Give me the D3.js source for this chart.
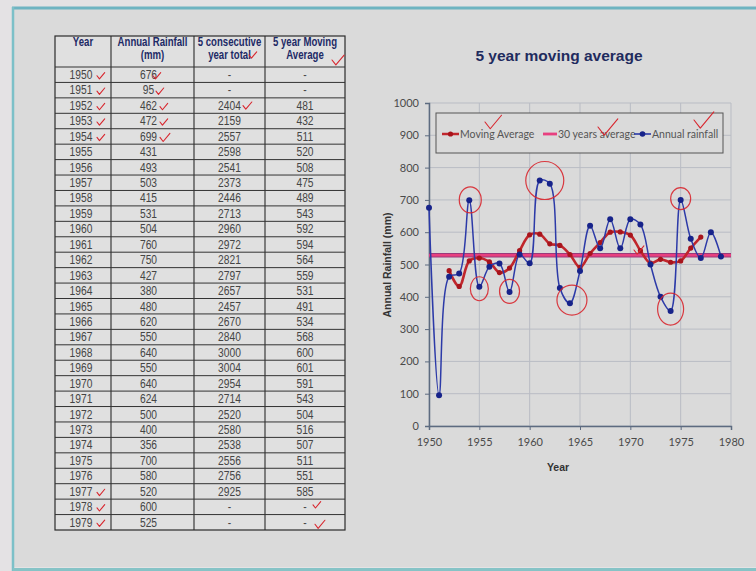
<!DOCTYPE html>
<html>
<head>
<meta charset="utf-8">
<script src="https://cdn.jsdelivr.net/npm/d3@7/dist/d3.min.js"></script>
<style>
  html, body { margin: 0; padding: 0; background: #e6e2e6; }
  svg { display: block; }
</style>
</head>
<body>
<svg id="slide" width="756" height="571"></svg>
<script>
// ---- data ----
const years = [1950,1951,1952,1953,1954,1955,1956,1957,1958,1959,
               1960,1961,1962,1963,1964,1965,1966,1967,1968,1969,
               1970,1971,1972,1973,1974,1975,1976,1977,1978,1979];
const rainfall = [676,95,462,472,699,431,493,503,415,531,
                  504,760,750,427,380,480,620,550,640,550,
                  640,624,500,400,356,700,580,520,600,525];
const fiveYearTotal = [null,null,2404,2159,2557,2598,2541,2373,2446,2713,
                       2960,2972,2821,2797,2657,2457,2670,2840,3000,3004,
                       2954,2714,2520,2580,2538,2556,2756,2925,null,null];
const movingAvg = [null,null,481,432,511,520,508,475,489,543,
                   592,594,564,559,531,491,534,568,600,601,
                   591,543,504,516,507,511,551,585,null,null];
const thirtyYearAvg = 529;
const yTicks = [0,100,200,300,400,500,600,700,800,900,1000];
const xTicks = [1950,1955,1960,1965,1970,1975,1980];
const headers = [["Year"], ["Annual Rainfall", "(mm)"], ["5 consecutive", "year total"], ["5 year Moving", "Average"]];
const legendItems = ["Moving Average", "30 years average", "Annual rainfall"];
// hand-drawn highlights: [year, value, rx, ry]
const highlights = [[1954.1, 700, 11, 13], [1961.5, 760, 19, 19], [1975.0, 704, 10, 11],
                    [1955.0, 425, 9, 12], [1958.0, 417, 10, 12], [1964.2, 390, 15, 15], [1974.0, 362, 13, 16]];

const svg = d3.select("#slide");
const red = "#d8262e";

// ---- slide frame ----
svg.append("rect").attr("x", 0).attr("y", 0).attr("width", 756).attr("height", 571).attr("fill", "#e4e2e4");
svg.append("rect").attr("x", 13).attr("y", 8).attr("width", 743).attr("height", 559).attr("fill", "#dadada");
svg.append("line").attr("x1", 12).attr("x2", 756).attr("y1", 8).attr("y2", 8).attr("stroke", "#6fb4c2").attr("stroke-width", 3);
svg.append("line").attr("x1", 13).attr("x2", 13).attr("y1", 7).attr("y2", 571).attr("stroke", "#7cc0c8").attr("stroke-width", 2.5);
svg.append("line").attr("x1", 13).attr("x2", 756).attr("y1", 569.5).attr("y2", 569.5).attr("stroke", "#86c3c6").attr("stroke-width", 3);

// ---- check mark helper ----
function tick(g, x, y, s) {
  g.append("path")
    .attr("d", `M${x},${y} l${0.35*s},${0.45*s} l${0.75*s},${-0.9*s}`)
    .attr("fill", "none").attr("stroke", red).attr("stroke-width", 1.1)
    .attr("stroke-linecap", "round").attr("stroke-linejoin", "round");
}

// condensed text: regular face squeezed horizontally
function narrowText(g, x, y, str, opts) {
  return g.append("text")
    .attr("transform", `translate(${x},${y}) scale(${opts.squeeze},1)`)
    .attr("text-anchor", "middle")
    .attr("font-family", "'Liberation Sans', Arial, sans-serif")
    .attr("font-size", opts.size)
    .attr("font-weight", opts.bold ? "bold" : "normal")
    .attr("fill", opts.fill)
    .text(str);
}

// ---- table ----
const table = svg.append("g");
const colX = [55, 111, 194, 265, 345];
const headTop = 36, headBottom = 67, rowH = (530 - 67) / years.length;

table.append("rect").attr("x", colX[0]).attr("y", headTop)
  .attr("width", colX[4] - colX[0]).attr("height", 530 - headTop)
  .attr("fill", "#e0e0e0").attr("stroke", "#2b2b2b").attr("stroke-width", 1.2);

colX.slice(1, 4).forEach(x => {
  table.append("line").attr("x1", x).attr("x2", x).attr("y1", headTop).attr("y2", 530)
    .attr("stroke", "#2b2b2b").attr("stroke-width", 1.1);
});
d3.range(years.length).forEach(i => {
  const y = headBottom + i * rowH;
  table.append("line").attr("x1", colX[0]).attr("x2", colX[4]).attr("y1", y).attr("y2", y)
    .attr("stroke", "#333").attr("stroke-width", 1);
});

headers.forEach((lines, c) => {
  const cx = (colX[c] + colX[c + 1]) / 2;
  lines.forEach((t, k) => {
    narrowText(table, cx, 46 + k * 13, t, { size: 12, bold: true, squeeze: 0.8, fill: "#1d2a66" });
  });
});

years.forEach((yr, i) => {
  const base = headBottom + i * rowH + 12;
  const cells = [yr, rainfall[i], fiveYearTotal[i] == null ? "-" : fiveYearTotal[i], movingAvg[i] == null ? "-" : movingAvg[i]];
  cells.forEach((v, c) => {
    const cx = (colX[c] + colX[c + 1]) / 2 - (c === 0 ? 2 : c === 1 ? 4 : 0);
    narrowText(table, cx, base, v, { size: 12.5, bold: false, squeeze: 0.82, fill: "#454545" });
  });
});

// red checks on the table
const rowMid = i => headBottom + i * rowH + rowH / 2;
[0, 1, 2, 3, 4, 27, 28, 29].forEach(i => tick(table, 97, rowMid(i) + 1, 7));
[[0, 153], [1, 156], [2, 160], [3, 160], [4, 160]].forEach(([i, x]) => tick(table, x, rowMid(i) + 1, i === 4 ? 9 : 7));
tick(table, 243, rowMid(2), 8);
tick(table, 249, 55, 7);
tick(table, 332, 60, 11);
tick(table, 313, rowMid(28) - 2, 7);
tick(table, 315, rowMid(29) + 2, 9);

// ---- chart ----
const x = d3.scaleLinear().domain([1950, 1980]).range([429, 731]);
const y = d3.scaleLinear().domain([0, 1000]).range([426, 103]);
const chart = svg.append("g");
const axisFont = "Lato, 'Open Sans', sans-serif";

chart.append("text").attr("x", 559).attr("y", 61).attr("text-anchor", "middle")
  .attr("font-family", "'Liberation Sans', Arial, sans-serif").attr("font-weight", "bold")
  .attr("font-size", 15.5).attr("fill", "#1f2b5e").text("5 year moving average");

// grid
chart.append("g").selectAll("line").data(yTicks).join("line")
  .attr("x1", x(1950)).attr("x2", x(1980)).attr("y1", d => y(d)).attr("y2", d => y(d))
  .attr("stroke", "#b9bcc4").attr("stroke-width", 1);
chart.append("g").selectAll("line").data(xTicks).join("line")
  .attr("x1", d => x(d)).attr("x2", d => x(d)).attr("y1", y(0)).attr("y2", y(1000))
  .attr("stroke", "#b9bcc4").attr("stroke-width", 1);

// axes
const yAxis = chart.append("g").attr("transform", `translate(${x(1950)},0)`)
  .call(d3.axisLeft(y).tickValues(yTicks).tickSize(4).tickPadding(6).tickFormat(d3.format("d")));
const xAxis = chart.append("g").attr("transform", `translate(0,${y(0)})`)
  .call(d3.axisBottom(x).tickValues(xTicks).tickSize(4).tickPadding(8).tickFormat(d3.format("d")));
[yAxis, xAxis].forEach(a => {
  a.select(".domain").attr("stroke", "#5d6b80").attr("stroke-width", 1.5);
  a.selectAll(".tick line").attr("stroke", "#5d6b80");
  a.selectAll("text").attr("font-family", axisFont).attr("font-size", 11).attr("fill", "#4a4a4a");
});

chart.append("text").attr("transform", "translate(391,265) rotate(-90)").attr("text-anchor", "middle")
  .attr("font-family", "'Liberation Sans', Arial, sans-serif").attr("font-weight", "bold")
  .attr("font-size", 10.5).attr("fill", "#333").text("Annual Rainfall (mm)");
chart.append("text").attr("x", 558).attr("y", 471).attr("text-anchor", "middle")
  .attr("font-family", "'Liberation Sans', Arial, sans-serif").attr("font-weight", "bold")
  .attr("font-size", 10.5).attr("fill", "#333").text("Year");

// 30-year average
chart.append("line").attr("x1", x(1950)).attr("x2", x(1980))
  .attr("y1", y(thirtyYearAvg)).attr("y2", y(thirtyYearAvg))
  .attr("stroke", "#9a3a7a").attr("stroke-width", 4.5);
chart.append("line").attr("x1", x(1950)).attr("x2", x(1980))
  .attr("y1", y(thirtyYearAvg)).attr("y2", y(thirtyYearAvg))
  .attr("stroke", "#e8407f").attr("stroke-width", 2.5);

const smooth = d3.curveCatmullRom.alpha(0.5);

// moving average
const maPts = years.map((yr, i) => [yr, movingAvg[i]]).filter(d => d[1] != null);
chart.append("path").datum(maPts)
  .attr("d", d3.line().x(d => x(d[0])).y(d => y(d[1])).curve(smooth))
  .attr("fill", "none").attr("stroke", "#c0262c").attr("stroke-width", 2.6);
chart.append("g").selectAll("circle").data(maPts).join("circle")
  .attr("cx", d => x(d[0])).attr("cy", d => y(d[1])).attr("r", 2.6).attr("fill", "#a8141c");

// annual rainfall
const rfPts = years.map((yr, i) => [yr, rainfall[i]]);
chart.append("path").datum(rfPts)
  .attr("d", d3.line().x(d => x(d[0])).y(d => y(d[1])).curve(smooth))
  .attr("fill", "none").attr("stroke", "#2c3aa8").attr("stroke-width", 1.5);
chart.append("g").selectAll("circle").data(rfPts).join("circle")
  .attr("cx", d => x(d[0])).attr("cy", d => y(d[1])).attr("r", 3).attr("fill", "#17238a");

// legend
const lg = chart.append("g");
lg.append("rect").attr("x", 436).attr("y", 113).attr("width", 287).attr("height", 40)
  .attr("fill", "#dadada").attr("stroke", "#555").attr("stroke-width", 1);
const lgY = 134;
const lgFont = "Lato, 'Open Sans', sans-serif";
const lgSize = 10.5;
// Moving Average
lg.append("line").attr("x1", 442).attr("x2", 459).attr("y1", lgY).attr("y2", lgY).attr("stroke", "#c0262c").attr("stroke-width", 2.5);
lg.append("circle").attr("cx", 450.5).attr("cy", lgY).attr("r", 2.6).attr("fill", "#a8141c");
lg.append("text").attr("x", 460).attr("y", lgY + 4).attr("font-family", lgFont).attr("font-size", lgSize).attr("fill", "#555").text(legendItems[0]);
// 30 years average
lg.append("line").attr("x1", 543).attr("x2", 557).attr("y1", lgY).attr("y2", lgY).attr("stroke", "#e8407f").attr("stroke-width", 2.8);
lg.append("text").attr("x", 558).attr("y", lgY + 4).attr("font-family", lgFont).attr("font-size", lgSize).attr("fill", "#555").text(legendItems[1]);
// Annual rainfall
lg.append("line").attr("x1", 634).attr("x2", 651).attr("y1", lgY).attr("y2", lgY).attr("stroke", "#2c3aa8").attr("stroke-width", 1.6);
lg.append("circle").attr("cx", 642.5).attr("cy", lgY).attr("r", 2.8).attr("fill", "#17238a");
lg.append("text").attr("x", 652).attr("y", lgY + 4).attr("font-family", lgFont).attr("font-size", lgSize).attr("fill", "#555").text(legendItems[2]);

// hand-drawn annotations
const ann = chart.append("g");
highlights.forEach(([yr, v, rx, ry]) => {
  ann.append("ellipse").attr("cx", x(yr)).attr("cy", y(v)).attr("rx", rx).attr("ry", ry)
    .attr("fill", "none").attr("stroke", red).attr("stroke-width", 1.2).attr("opacity", 0.9);
});
tick(ann, 485, 122, 15);
tick(ann, 598, 127, 18);
tick(ann, 694, 120, 18);
tick(ann, 634, 250, 9);
</script>
</body>
</html>
